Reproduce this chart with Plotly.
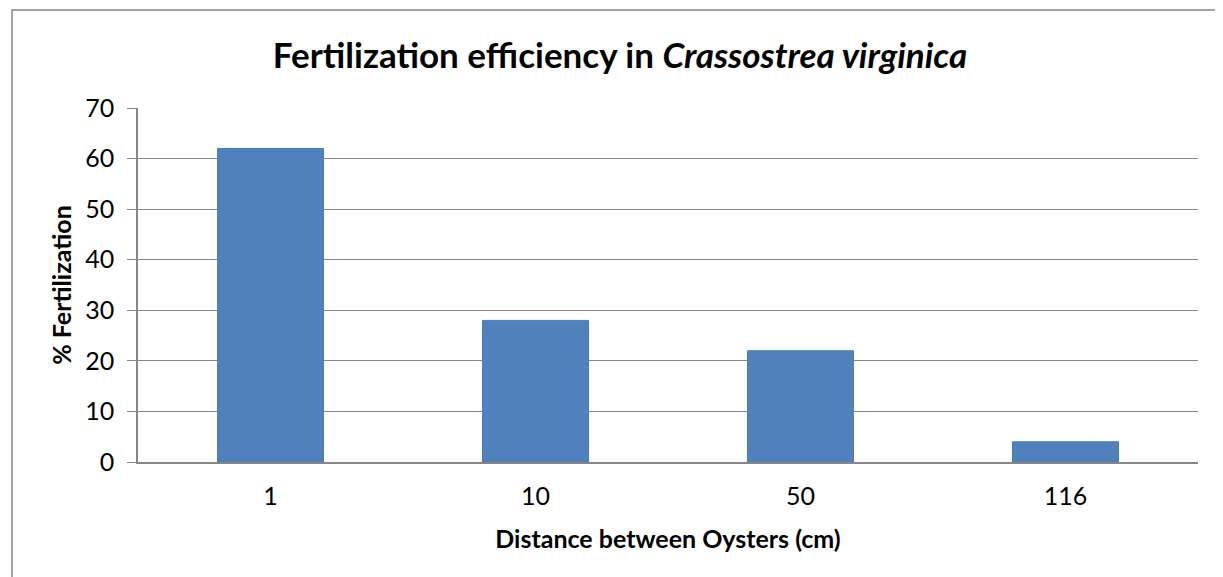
import plotly.graph_objects as go

categories = ["1", "10", "50", "116"]
fertilization = [62, 28, 22, 4]
y_ticks = [0, 10, 20, 30, 40, 50, 60, 70]

# page has an 8px body offset; figure coordinates = page - 8
OFF = 8
W, H = 1223 - OFF, 577 - OFF
L, R, T, B = 138 - OFF, W - (1198 - OFF), 108 - OFF, H - (462 - OFF)
pw, ph = W - L - R, H - T - B

def px(x):  # page x -> paper
    return (x - OFF - L) / pw

def py(y):  # page y -> paper
    return (H - B - (y - OFF)) / ph

fig = go.Figure(go.Bar(
    x=categories, y=fertilization,
    marker=dict(color="#4F81BD", line=dict(color="#4A7EBB", width=1)),
    width=0.4,
))

font = "Lato, 'Open Sans', sans-serif"
fig.update_layout(
    width=W, height=H,
    margin=dict(l=L, r=R, t=T, b=B, autoexpand=False),
    paper_bgcolor="white", plot_bgcolor="white",
    showlegend=False,
    font=dict(family=font, color="#000000"),
    title=dict(text="<b>Fertilization efficiency in <i>Crassostrea virginica</i></b>",
               x=(620 - OFF) / W, xanchor="center", xref="container",
               y=1 - (56 - OFF) / H, yanchor="middle",
               font=dict(size=35, family=font, color="#000")),
    xaxis=dict(type="category", showgrid=False, showline=True, linecolor="#868686",
               linewidth=1.5, ticks="", tickfont=dict(size=25), ticklabelstandoff=11,
               title=dict(text="<b>Distance between Oysters (cm)</b>", font=dict(size=25), standoff=22)),
    yaxis=dict(range=[0, 70], tickvals=y_ticks, showgrid=True, gridcolor="#868686", gridwidth=1.3,
               showline=True, linecolor="#868686", linewidth=1.5, ticks="outside", ticklen=9,
               tickcolor="#868686", tickfont=dict(size=25), zeroline=False, ticklabelstandoff=8,
               title=dict(text="<b>% Fertilization</b>", font=dict(size=25), standoff=6)),
    bargap=0.6,
)

fig.add_shape(type="rect", xref="paper", yref="paper",
              x0=px(12), x1=px(1260), y0=py(10), y1=py(620),
              line=dict(color="#868686", width=1.5), fillcolor="rgba(0,0,0,0)", layer="below")

fig.write_html("out.html")
